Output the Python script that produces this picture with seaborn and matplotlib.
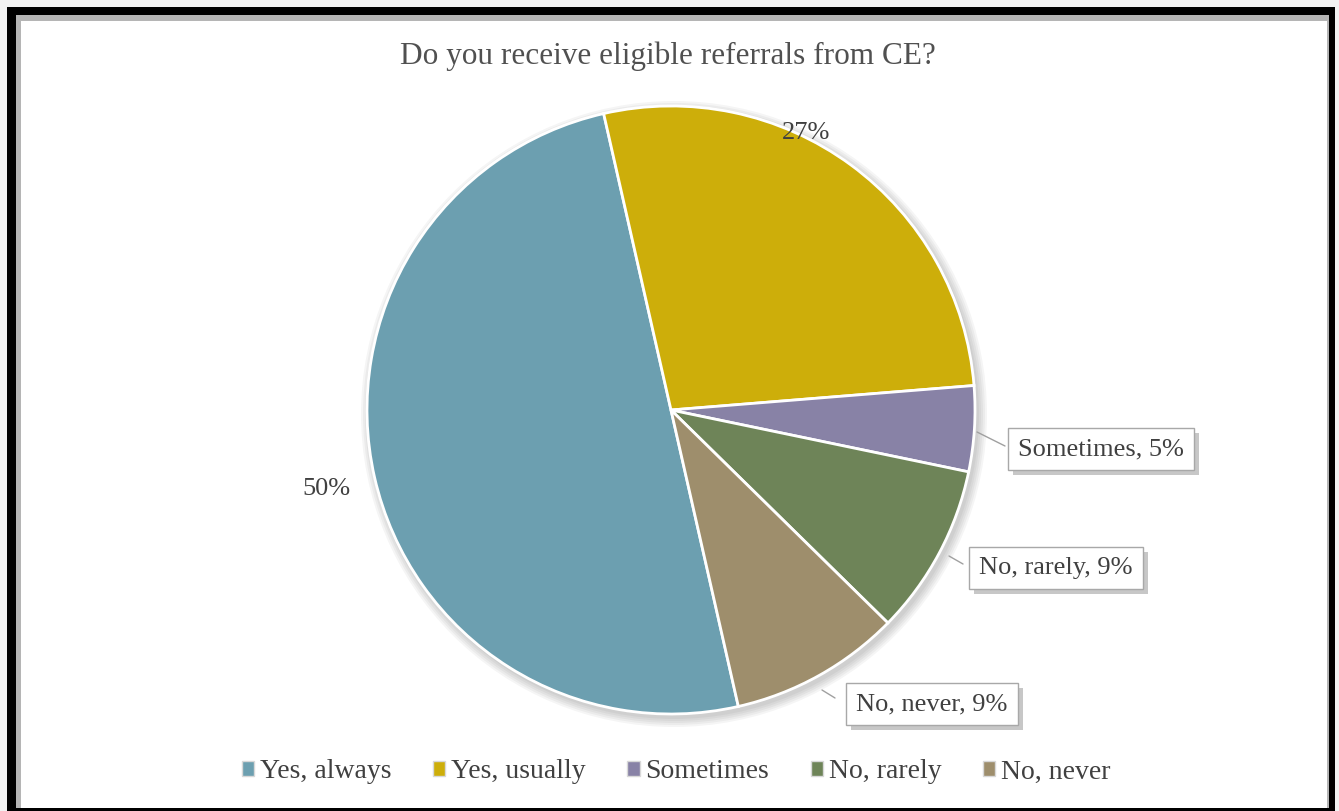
import matplotlib
matplotlib.use("Agg")
import matplotlib.pyplot as plt
from matplotlib.patches import Rectangle, Circle
import seaborn as sns

# Survey answers (counts of 22 respondents)
categories = ["Yes, always", "Yes, usually", "Sometimes", "No, rarely", "No, never"]
counts = [11, 6, 1, 2, 2]
colors = ["#6C9FB0", "#CDAE0A", "#8882A6", "#6E8458", "#9E8E6C"]
title = "Do you receive eligible referrals from CE?"

sns.set_theme(style="white")
plt.rcParams["font.family"] = ["Liberation Serif", "DejaVu Serif"]
palette = sns.color_palette(colors)

W, H = 1339, 811
fig = plt.figure(figsize=(W / 100, H / 100), dpi=100)
fig.patch.set_facecolor("#F2F2F2")
ax = fig.add_axes([0, 0, 1, 1])

# Outer black frame with a thin grey bevel on the inside
ax.add_patch(Rectangle((7, -5), 1328, 809, facecolor="black", edgecolor="none", zorder=0))
ax.add_patch(Rectangle((16, 3), 1313, 793, facecolor="#B5B5B5", edgecolor="none", zorder=0.5))
ax.add_patch(Rectangle((21, 3), 1306, 787, facecolor="white", edgecolor="none", zorder=0.6))

cx, cy, R = 671, H - 410, 304

# Soft shadow behind the pie
for i in range(5):
    ax.add_patch(Circle((cx + 3, cy - 4), R + 1 + 2 * i, facecolor="black",
                        edgecolor="none", alpha=0.04, zorder=1))

total = sum(counts)
wedges, _ = ax.pie(counts, colors=palette, startangle=90 - 167.2, counterclock=False,
                   center=(cx, cy), radius=R, frame=True,
                   wedgeprops=dict(edgecolor="white", linewidth=2))
for w in wedges:
    w.set_zorder(2)
ax.set_xlim(0, W)
ax.set_ylim(0, H)
ax.set_aspect("equal")
ax.axis("off")

pct = [round(100 * c / total) for c in counts]
text_color = "#404040"

ax.text(668, H - 56, title, ha="center", va="center", fontsize=22.5, color="#505050")

# Plain percentage labels for the two large slices
ax.text(326, H - 489, f"{pct[0]}%", ha="center", va="center", fontsize=19, color=text_color)
ax.text(806, H - 133, f"{pct[1]}%", ha="center", va="center", fontsize=19, color=text_color)

# Callout labels with leader lines for the small slices
callouts = [
    (2, (1101, H - 449), (977, H - 432), (1005, H - 446)),
    (3, (1056, H - 568), (949, H - 556), (963, H - 564)),
    (4, (932, H - 704), (822, H - 690), (835, H - 698)),
]
fig.canvas.draw()
renderer = fig.canvas.get_renderer()
inv = ax.transData.inverted()
for idx, (tx, ty), p0, p1 in callouts:
    label = f"{categories[idx]}, {pct[idx]}%"
    ax.plot([p0[0], p1[0]], [p0[1], p1[1]], color="#A0A0A0", lw=1, zorder=3)
    t = ax.text(tx, ty, label, ha="center", va="center", fontsize=19, color=text_color, zorder=6)
    bb = t.get_window_extent(renderer).transformed(inv)
    padx, pady = 10, 10
    x0, y0 = bb.x0 - padx, bb.y0 - pady
    bw, bh = bb.width + 2 * padx, bb.height + 2 * pady
    ax.add_patch(Rectangle((x0 + 5, y0 - 5), bw, bh, facecolor="#9A9A9A", edgecolor="none",
                           alpha=0.55, zorder=4))
    ax.add_patch(Rectangle((x0, y0), bw, bh, facecolor="white", edgecolor="#A8A8A8",
                           lw=1, zorder=5))

# Legend along the bottom
handles = [Rectangle((0, 0), 1, 1, facecolor=c, edgecolor="#D8D8D8") for c in palette]
leg = ax.legend(handles, categories, loc="center", bbox_to_anchor=(676 / W, 1 - 772 / H),
                bbox_transform=fig.transFigure, ncol=5, frameon=False, fontsize=20,
                handlelength=0.45, handleheight=0.45, handletextpad=0.2, columnspacing=1.5,
                labelcolor=text_color)

fig.savefig("out.png", dpi=100, facecolor=fig.get_facecolor())
